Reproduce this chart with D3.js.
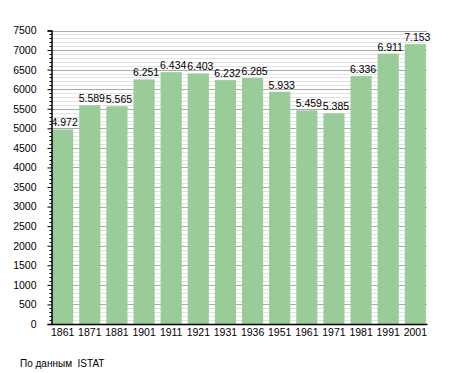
<!DOCTYPE html>
<html>
<head>
<meta charset="utf-8">
<script src="https://cdn.jsdelivr.net/npm/d3@7"></script>
<style>
  body { margin: 0; background: #fff; }
  text { font-family: "Liberation Sans", Arial, sans-serif; fill: #000; }
</style>
</head>
<body>
<svg width="455" height="373"></svg>
<script>
// census years and population
let years = ["1861", "1871", "1881", "1901", "1911", "1921", "1931",
  "1936", "1951", "1961", "1971", "1981", "1991", "2001"];
let population = [4972, 5589, 5565, 6251, 6434, 6403, 6232,
  6285, 5933, 5459, 5385, 6336, 6911, 7153];
let source = "По данным  ISTAT";

let svg = d3.select("svg");
let plotLeft = 51, plotRight = 427, plotTop = 30.5, plotBottom = 324;

let x = d3.scaleBand().domain(years).range([plotLeft, plotRight])
  .paddingInner(0.22).paddingOuter(0.04);
let y = d3.scaleLinear().domain([0, 7500]).range([plotBottom, plotTop]);

// minor grid every 100
svg.append("g")
  .selectAll("line")
  .data(d3.range(100, 7600, 100).filter(function (d) { return d % 500 != 0; }))
  .enter()
  .append("line")
  .attr("x1", plotLeft).attr("x2", plotRight)
  .attr("y1", function (d) { return Math.round(y(d)) + 0.5; })
  .attr("y2", function (d) { return Math.round(y(d)) + 0.5; })
  .attr("stroke", "#e2e2e2");

// major grid every 500
svg.append("g")
  .selectAll("line")
  .data(d3.range(500, 8000, 500))
  .enter()
  .append("line")
  .attr("x1", plotLeft).attr("x2", plotRight)
  .attr("y1", function (d) { return Math.round(y(d)) + 0.5; })
  .attr("y2", function (d) { return Math.round(y(d)) + 0.5; })
  .attr("stroke", "#aaaaaa");

// bars
svg.append("g")
  .selectAll("rect")
  .data(population)
  .enter()
  .append("rect")
  .attr("x", function (d, i) { return x(years[i]); })
  .attr("width", x.bandwidth())
  .attr("y", function (d) { return y(d); })
  .attr("height", function (d) { return plotBottom - y(d); })
  .attr("fill", "#99cc99");

// value labels
let fmt = function (d) { return d3.format(",")(d).replace(",", "."); };
svg.append("g")
  .selectAll("text")
  .data(population)
  .enter()
  .append("text")
  .attr("x", function (d, i) { return x(years[i]) + x.bandwidth() / 2 + 2; })
  .attr("y", function (d) { return y(d) - 3; })
  .attr("text-anchor", "middle")
  .style("font-size", "10.5px")
  .text(fmt);

// y axis
let yAxis = svg.append("g")
  .attr("transform", "translate(" + (plotLeft + 0.5) + ",0)")
  .call(d3.axisLeft(y).tickValues(d3.range(0, 8000, 500))
    .tickFormat(d3.format("d")).tickSize(4).tickPadding(11));
yAxis.select(".domain").attr("stroke", "#000").attr("stroke-width", 1.5);
yAxis.selectAll("text").style("font-size", "10.5px");

svg.append("g")
  .attr("transform", "translate(" + (plotLeft + 0.5) + ",0)")
  .selectAll("line")
  .data(d3.range(100, 7500, 100).filter(function (d) { return d % 500 != 0; }))
  .enter()
  .append("line")
  .attr("x1", -2).attr("x2", 0)
  .attr("y1", function (d) { return Math.round(y(d)) + 0.5; })
  .attr("y2", function (d) { return Math.round(y(d)) + 0.5; })
  .attr("stroke", "#000");

// x axis
let xAxis = svg.append("g")
  .attr("transform", "translate(0," + plotBottom + ")")
  .call(d3.axisBottom(x).tickSize(0).tickPadding(5));
xAxis.select(".domain").attr("stroke", "#000").attr("stroke-width", 1.5);
xAxis.selectAll("text").style("font-size", "10.5px");

svg.append("text")
  .attr("x", 20).attr("y", 367)
  .style("font-size", "10px")
  .style("white-space", "pre")
  .text(source);
</script>
</body>
</html>
